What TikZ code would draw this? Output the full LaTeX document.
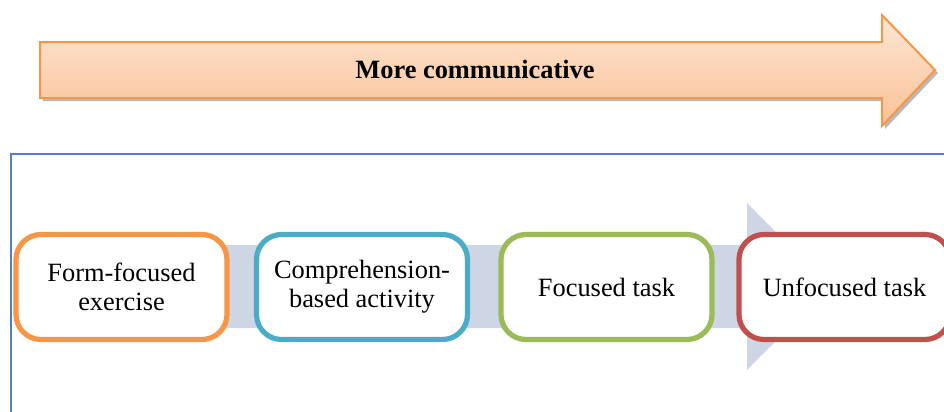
\documentclass[tikz,border=0pt]{standalone}
\usepackage{fontspec}
\setmainfont{Liberation Serif}
\definecolor{arrowborder}{HTML}{F79646}
\definecolor{arrowtop}{HTML}{FDE6D4}
\definecolor{arrowbot}{HTML}{FAC196}
\definecolor{framecol}{HTML}{4F81BD}
\definecolor{bandcol}{HTML}{CED5E5}
\definecolor{cOrange}{HTML}{F79646}
\definecolor{cTeal}{HTML}{4BACC6}
\definecolor{cGreen}{HTML}{9BBB59}
\definecolor{cRed}{HTML}{C0504D}
\begin{document}
\begin{tikzpicture}[x=0.5pt,y=-0.5pt,
  stagebox/.style={draw, fill=white, line width=2.6pt, rounded corners=12.5pt,
    minimum width=105.5pt, minimum height=52.5pt, align=center,
    font=\fontsize{13.2}{14.5}\selectfont, inner sep=2pt},
  titletext/.style={font=\fontsize{13.2}{14.5}\selectfont\bfseries}]
\useasboundingbox (0,0) rectangle (944,412);
\clip (0,0) rectangle (944,412);
% top arrow shadow
\fill[gray!55] (43,45) -- (885,45) -- (885,18) -- (938,73) -- (885,129) -- (885,101) -- (43,101) -- cycle;
% top arrow
\draw[arrowborder, line width=1pt, top color=arrowtop, bottom color=arrowbot]
  (40,42) -- (882,42) -- (882,15) -- (935,70) -- (882,126) -- (882,98) -- (40,98) -- cycle;
\node[titletext] (title) at (475,70) {More communicative};
% frame
\draw[framecol, line width=0.8pt] (11,420) -- (11,154) -- (960,154);
% background band arrow
\fill[bandcol] (30,245) -- (747,245) -- (747,203) -- (830,286.5) -- (747,370) -- (747,328) -- (30,328) -- cycle;
% stages
\node[stagebox, draw=cOrange] (s1) at (121.5,287) {Form-focused\\exercise};
\node[stagebox, draw=cTeal] (s2) at (362,287) {Comprehension-\\based activity};
\node[stagebox, draw=cGreen] (s3) at (606.5,287) {Focused task};
\node[stagebox, draw=cRed] (s4) at (844.5,287) {Unfocused task};
\end{tikzpicture}
\end{document}
